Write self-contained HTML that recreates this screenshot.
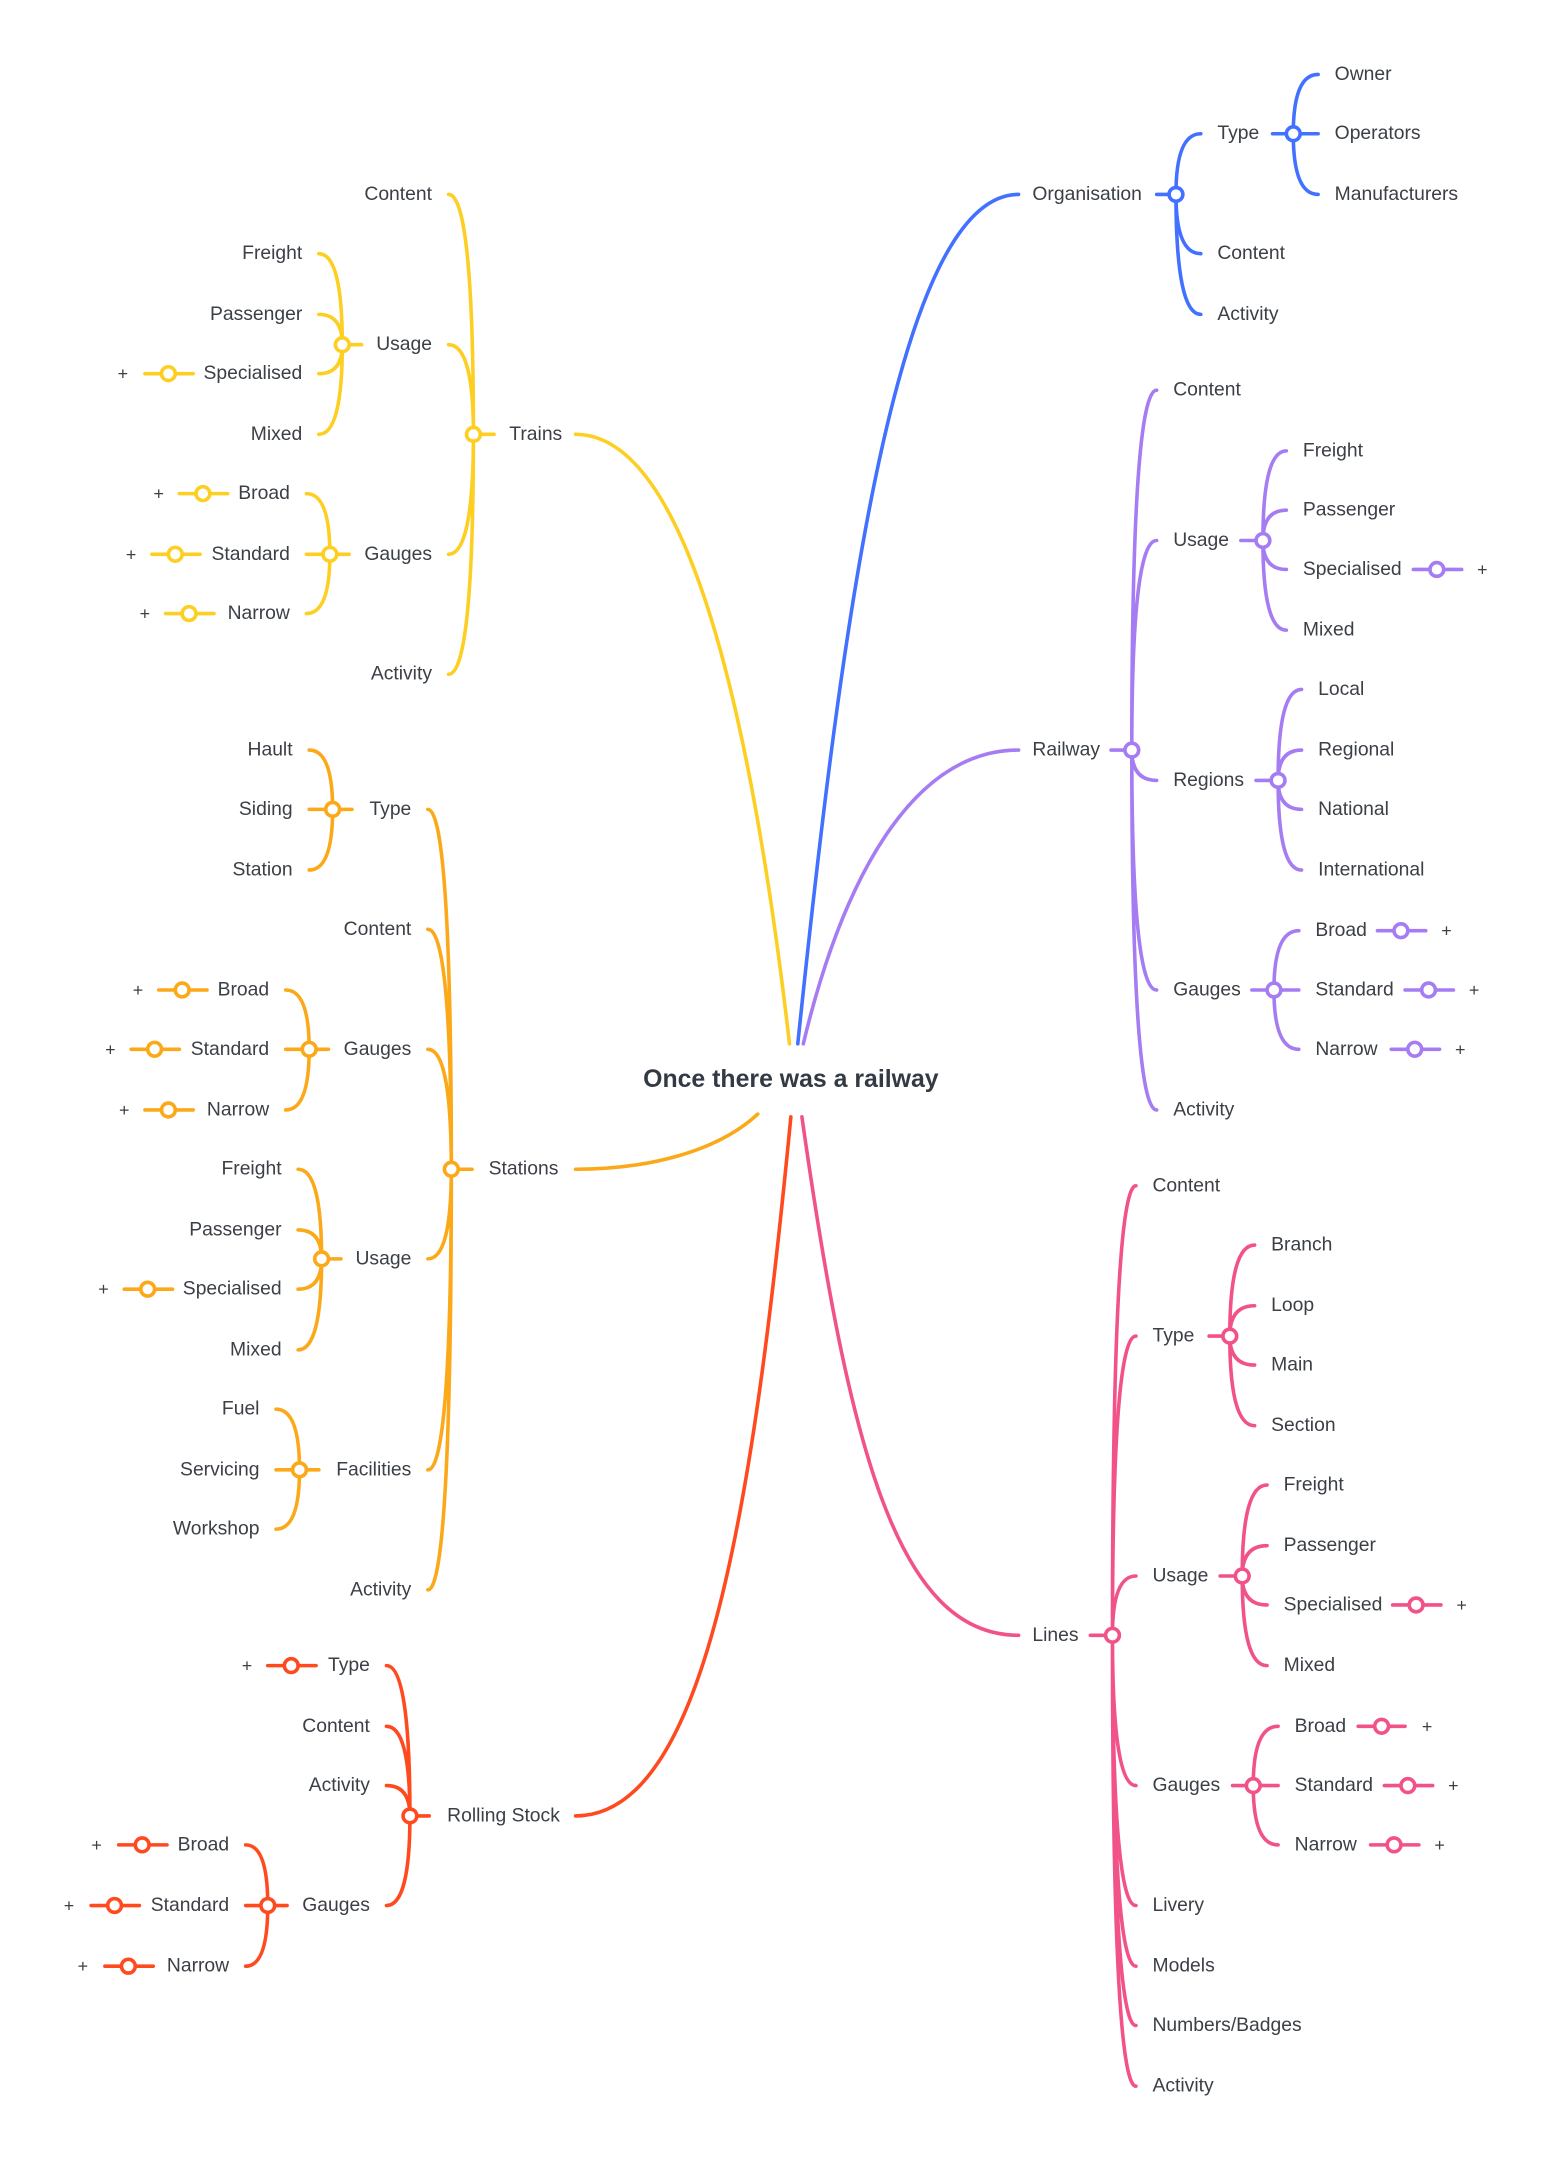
<!DOCTYPE html>
<html><head><meta charset="utf-8"><style>
html,body{margin:0;padding:0;background:#fff;}
svg{display:block;}
text{font-family:"Liberation Sans",sans-serif;font-size:14px;fill:#3b3f46;dominant-baseline:central;}
.e{text-anchor:end;}
.c{stroke-width:2.6;fill:none;stroke-linecap:round;}
circle{fill:#fff;stroke-width:2.6;}
.p{font-size:13px;}
</style></head><body>
<svg width="1550" height="2162" viewBox="0 0 1123 1568" preserveAspectRatio="none" xmlns="http://www.w3.org/2000/svg">
<text x="573" y="783" text-anchor="middle" style="font-size:18px;font-weight:bold;fill:#333a44">Once there was a railway</text>

<!-- Trains yellow -->
<g stroke="#FDCF22" class="c">
<path d="M417 315C490 315 540 480 572 757"/>
<path d="M343 315H358"/>
<path d="M343 315Q343 141 325 141M343 315Q343 250 325 250M343 315Q343 402 325 402M343 315Q343 489 325 489"/>
<path d="M248 250H262"/>
<path d="M248 250Q248 184 231 184M248 250Q248 228 231 228M248 250Q248 271 231 271M248 250Q248 315 231 315"/>
<path d="M105 271H140"/>
<path d="M239 402H253"/>
<path d="M239 402Q239 358 222 358M239 402H222M239 402Q239 445 222 445"/>
<path d="M130 358H165M110 402H145M120 445H155"/>
<circle cx="343" cy="315" r="5"/><circle cx="248" cy="250" r="5"/><circle cx="122" cy="271" r="5"/>
<circle cx="239" cy="402" r="5"/><circle cx="147" cy="358" r="5"/><circle cx="127" cy="402" r="5"/><circle cx="137" cy="445" r="5"/>
</g>
<text x="369" y="315">Trains</text>
<text class="e" x="313" y="141">Content</text><text class="e" x="313" y="250">Usage</text><text class="e" x="313" y="402">Gauges</text><text class="e" x="313" y="489">Activity</text>
<text class="e" x="219" y="184">Freight</text><text class="e" x="219" y="228">Passenger</text><text class="e" x="219" y="271">Specialised</text><text class="e" x="219" y="315">Mixed</text>
<text class="e" x="210" y="358">Broad</text><text class="e" x="210" y="402">Standard</text><text class="e" x="210" y="445">Narrow</text>
<text class="p" x="89" y="271" text-anchor="middle">+</text><text class="p" x="115" y="358" text-anchor="middle">+</text><text class="p" x="95" y="402" text-anchor="middle">+</text><text class="p" x="105" y="445" text-anchor="middle">+</text>

<!-- Stations orange -->
<g stroke="#FBA919" class="c">
<path d="M417 848C470 848 520 835 549 808"/>
<path d="M327 848H342"/>
<path d="M327 848Q327 587 310 587M327 848Q327 674 310 674M327 848Q327 761 310 761M327 848Q327 913 310 913M327 848Q327 1066 310 1066M327 848Q327 1153 310 1153"/>
<path d="M241 587H255M241 587Q241 544 224 544M241 587H224M241 587Q241 631 224 631"/>
<path d="M224 761H238M224 761Q224 718 207 718M224 761H207M224 761Q224 805 207 805"/>
<path d="M115 718H150M95 761H130M105 805H140"/>
<path d="M233 913H247M233 913Q233 848 216 848M233 913Q233 892 216 892M233 913Q233 935 216 935M233 913Q233 979 216 979"/>
<path d="M90 935H125"/>
<path d="M217 1066H231M217 1066Q217 1022 200 1022M217 1066H200M217 1066Q217 1109 200 1109"/>
<circle cx="327" cy="848" r="5"/><circle cx="241" cy="587" r="5"/><circle cx="224" cy="761" r="5"/>
<circle cx="132" cy="718" r="5"/><circle cx="112" cy="761" r="5"/><circle cx="122" cy="805" r="5"/>
<circle cx="233" cy="913" r="5"/><circle cx="107" cy="935" r="5"/><circle cx="217" cy="1066" r="5"/>
</g>
<text x="354" y="848">Stations</text>
<text class="e" x="298" y="587">Type</text><text class="e" x="298" y="674">Content</text><text class="e" x="298" y="761">Gauges</text><text class="e" x="298" y="913">Usage</text><text class="e" x="298" y="1066">Facilities</text><text class="e" x="298" y="1153">Activity</text>
<text class="e" x="212" y="544">Hault</text><text class="e" x="212" y="587">Siding</text><text class="e" x="212" y="631">Station</text>
<text class="e" x="195" y="718">Broad</text><text class="e" x="195" y="761">Standard</text><text class="e" x="195" y="805">Narrow</text>
<text class="e" x="204" y="848">Freight</text><text class="e" x="204" y="892">Passenger</text><text class="e" x="204" y="935">Specialised</text><text class="e" x="204" y="979">Mixed</text>
<text class="e" x="188" y="1022">Fuel</text><text class="e" x="188" y="1066">Servicing</text><text class="e" x="188" y="1109">Workshop</text>
<text class="p" x="100" y="718" text-anchor="middle">+</text><text class="p" x="80" y="761" text-anchor="middle">+</text><text class="p" x="90" y="805" text-anchor="middle">+</text><text class="p" x="75" y="935" text-anchor="middle">+</text>

<!-- Rolling Stock red -->
<g stroke="#FF4A1F" class="c">
<path d="M573 810C545 1100 510 1317 417 1317"/>
<path d="M297 1317H311"/>
<path d="M297 1317Q297 1208 280 1208M297 1317Q297 1252 280 1252M297 1317Q297 1295 280 1295M297 1317Q297 1382 280 1382"/>
<path d="M194 1208H229"/>
<path d="M194 1382H208M194 1382Q194 1338 178 1338M194 1382H178M194 1382Q194 1426 178 1426"/>
<path d="M86 1338H121M66 1382H101M76 1426H111"/>
<circle cx="297" cy="1317" r="5"/><circle cx="211" cy="1208" r="5"/><circle cx="194" cy="1382" r="5"/>
<circle cx="103" cy="1338" r="5"/><circle cx="83" cy="1382" r="5"/><circle cx="93" cy="1426" r="5"/>
</g>
<text x="324" y="1317">Rolling Stock</text>
<text class="e" x="268" y="1208">Type</text><text class="e" x="268" y="1252">Content</text><text class="e" x="268" y="1295">Activity</text><text class="e" x="268" y="1382">Gauges</text>
<text class="e" x="166" y="1338">Broad</text><text class="e" x="166" y="1382">Standard</text><text class="e" x="166" y="1426">Narrow</text>
<text class="p" x="179" y="1208" text-anchor="middle">+</text><text class="p" x="70" y="1338" text-anchor="middle">+</text><text class="p" x="50" y="1382" text-anchor="middle">+</text><text class="p" x="60" y="1426" text-anchor="middle">+</text>

<!-- Organisation blue -->
<g stroke="#4270FF" class="c">
<path d="M578 757C610 450 650 141 738 141"/>
<path d="M838 141H852M852 141Q852 97 870 97M852 141Q852 184 870 184M852 141Q852 228 870 228"/>
<path d="M922 97H955M937 97Q937 54 955 54M937 97Q937 141 955 141"/>
<circle cx="852" cy="141" r="5"/><circle cx="937" cy="97" r="5"/>
</g>
<text x="748" y="141">Organisation</text>
<text x="882" y="97">Type</text><text x="882" y="184">Content</text><text x="882" y="228">Activity</text>
<text x="967" y="54">Owner</text><text x="967" y="97">Operators</text><text x="967" y="141">Manufacturers</text>

<!-- Railway purple -->
<g stroke="#A57CF2" class="c">
<path d="M582 757C610 640 660 544 738 544"/>
<path d="M805 544H820M820 544Q820 283 838 283M820 544Q820 392 838 392M820 544Q820 566 838 566M820 544Q820 718 838 718M820 544Q820 805 838 805"/>
<path d="M899 392H915M915 392Q915 327 932 327M915 392Q915 370 932 370M915 392Q915 413 932 413M915 392Q915 457 932 457"/>
<path d="M1024 413H1059"/>
<path d="M910 566H926M926 566Q926 500 943 500M926 566Q926 544 943 544M926 566Q926 587 943 587M926 566Q926 631 943 631"/>
<path d="M907 718H941M923 718Q923 675 941 675M923 718Q923 761 941 761"/>
<path d="M998 675H1033M1018 718H1053M1008 761H1043"/>
<circle cx="820" cy="544" r="5"/><circle cx="915" cy="392" r="5"/><circle cx="1041" cy="413" r="5"/><circle cx="926" cy="566" r="5"/>
<circle cx="923" cy="718" r="5"/><circle cx="1015" cy="675" r="5"/><circle cx="1035" cy="718" r="5"/><circle cx="1025" cy="761" r="5"/>
</g>
<text x="748" y="544">Railway</text>
<text x="850" y="283">Content</text><text x="850" y="392">Usage</text><text x="850" y="566">Regions</text><text x="850" y="718">Gauges</text><text x="850" y="805">Activity</text>
<text x="944" y="327">Freight</text><text x="944" y="370">Passenger</text><text x="944" y="413">Specialised</text><text x="944" y="457">Mixed</text>
<text x="955" y="500">Local</text><text x="955" y="544">Regional</text><text x="955" y="587">National</text><text x="955" y="631">International</text>
<text x="953" y="675">Broad</text><text x="953" y="718">Standard</text><text x="953" y="761">Narrow</text>
<text class="p" x="1074" y="413" text-anchor="middle">+</text><text class="p" x="1048" y="675" text-anchor="middle">+</text><text class="p" x="1068" y="718" text-anchor="middle">+</text><text class="p" x="1058" y="761" text-anchor="middle">+</text>

<!-- Lines pink -->
<g stroke="#F2528A" class="c">
<path d="M581 810C615 1050 650 1186 738 1186"/>
<path d="M790 1186H806M806 1186Q806 860 823 860M806 1186Q806 969 823 969M806 1186Q806 1143 823 1143M806 1186Q806 1295 823 1295M806 1186Q806 1382 823 1382M806 1186Q806 1426 823 1426M806 1186Q806 1469 823 1469M806 1186Q806 1513 823 1513"/>
<path d="M876 969H891M891 969Q891 903 909 903M891 969Q891 947 909 947M891 969Q891 990 909 990M891 969Q891 1034 909 1034"/>
<path d="M884 1143H900M900 1143Q900 1077 918 1077M900 1143Q900 1121 918 1121M900 1143Q900 1164 918 1164M900 1143Q900 1208 918 1208"/>
<path d="M1009 1164H1044"/>
<path d="M893 1295H926M908 1295Q908 1252 926 1252M908 1295Q908 1338 926 1338"/>
<path d="M984 1252H1018M1003 1295H1038M993 1338H1028"/>
<circle cx="806" cy="1186" r="5"/><circle cx="891" cy="969" r="5"/><circle cx="900" cy="1143" r="5"/><circle cx="1026" cy="1164" r="5"/>
<circle cx="908" cy="1295" r="5"/><circle cx="1001" cy="1252" r="5"/><circle cx="1020" cy="1295" r="5"/><circle cx="1010" cy="1338" r="5"/>
</g>
<text x="748" y="1186">Lines</text>
<text x="835" y="860">Content</text><text x="835" y="969">Type</text><text x="835" y="1143">Usage</text><text x="835" y="1295">Gauges</text><text x="835" y="1382">Livery</text><text x="835" y="1426">Models</text><text x="835" y="1469">Numbers/Badges</text><text x="835" y="1513">Activity</text>
<text x="921" y="903">Branch</text><text x="921" y="947">Loop</text><text x="921" y="990">Main</text><text x="921" y="1034">Section</text>
<text x="930" y="1077">Freight</text><text x="930" y="1121">Passenger</text><text x="930" y="1164">Specialised</text><text x="930" y="1208">Mixed</text>
<text x="938" y="1252">Broad</text><text x="938" y="1295">Standard</text><text x="938" y="1338">Narrow</text>
<text class="p" x="1059" y="1164" text-anchor="middle">+</text><text class="p" x="1034" y="1252" text-anchor="middle">+</text><text class="p" x="1053" y="1295" text-anchor="middle">+</text><text class="p" x="1043" y="1338" text-anchor="middle">+</text>
</svg>
</body></html>
